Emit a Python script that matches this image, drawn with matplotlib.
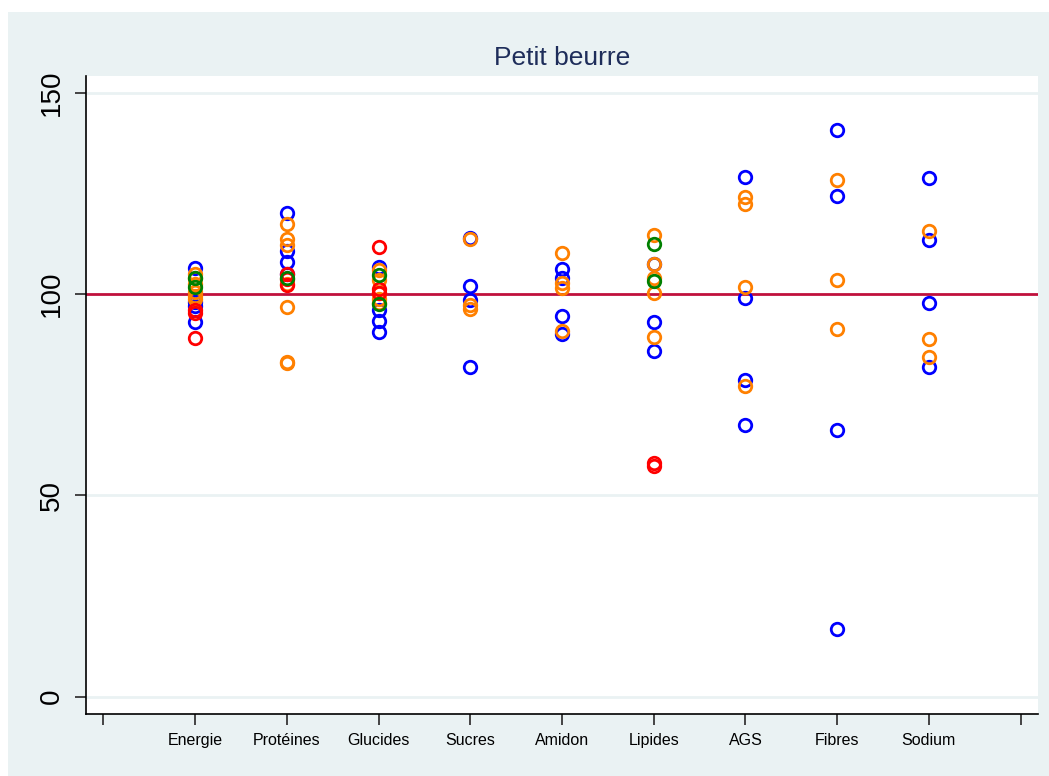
import numpy as np
import matplotlib.pyplot as plt
from matplotlib.patches import Rectangle

plt.rcParams['font.family'] = ['Liberation Sans', 'DejaVu Sans']

categories = ['Energie', 'Protéines', 'Glucides', 'Sucres', 'Amidon',
              'Lipides', 'AGS', 'Fibres', 'Sodium']

# one list of values per category, for each group (colour)
blue_vals = [
    [106.4, 98.1, 97.0, 93.1],
    [120.2, 110.8, 108.0, 105.0],
    [106.8, 96.0, 93.4, 90.6],
    [114.0, 102.1, 98.5, 81.8],
    [106.2, 103.9, 94.6, 90.0],
    [107.6, 93.1, 86.0],
    [129.2, 99.1, 78.7, 67.4],
    [140.8, 124.3, 66.3, 16.8],
    [128.8, 113.4, 97.9, 82.0],
]
orange_vals = [
    [105.1, 104.0, 102.5, 100.6, 99.5, 98.9],
    [117.5, 113.6, 112.2, 102.6, 96.9, 82.9, 83.1],
    [106.0, 103.5, 100.2, 98.9, 97.8],
    [113.6, 97.3, 96.2],
    [110.2, 102.8, 101.6, 90.8],
    [114.8, 107.4, 103.9, 100.3, 89.4],
    [124.1, 122.3, 101.8, 77.2],
    [128.4, 103.5, 91.3],
    [115.6, 88.9, 84.5],
]
red_vals = [
    [96.0, 95.3, 89.0],
    [105.1, 103.7, 102.2],
    [111.7, 101.4, 100.3],
    [], [],
    [58.0, 57.4],
    [], [], [],
]
green_vals = [
    [103.9, 101.8],
    [104.0],
    [104.7, 97.5],
    [], [],
    [112.4, 103.2],
    [], [], [],
]

groups = [(blue_vals, '#0000FF'), (orange_vals, '#FF8000'),
          (red_vals, '#FF0000'), (green_vals, '#008000')]

fig = plt.figure(figsize=(10.49, 7.76), dpi=100, facecolor='white')
fig.patches.append(Rectangle((8 / 1049, 0), 1, 1 - 12 / 776, transform=fig.transFigure,
                             facecolor='#EAF2F3', edgecolor='none', zorder=-10))
ax = fig.add_axes([86 / 1049, 62 / 776, 952 / 1049, 638 / 776])
ax.set_zorder(1)
ax.set_facecolor('white')

for y in [0, 50, 150]:
    ax.axhline(y, color='#EAF2F3', lw=2, zorder=1)
ax.axhline(100, color='#C0103C', lw=2, zorder=2)

for vals, col in groups:
    for i, v in enumerate(vals):
        ax.plot([i + 1] * len(v), v, 'o', mfc='none', mec=col, ms=9, mew=2,
                linestyle='none', zorder=3)

ax.set_xlim(-0.19, 10.19)
ax.set_ylim(-4.3, 154.2)
ax.set_xticks(range(11))
ax.set_xticklabels([''] + categories + [''], fontsize=11.5)
ax.set_yticks([0, 50, 100, 150])
ax.set_yticklabels(['0', '50', '100', '150'], fontsize=20, rotation=90, va='center')

for s in ['top', 'right']:
    ax.spines[s].set_visible(False)
for s in ['left', 'bottom']:
    ax.spines[s].set_linewidth(1.2)
ax.tick_params(axis='both', length=8, width=1.4, color='#444444')
ax.tick_params(axis='x', pad=6)
ax.tick_params(axis='y', pad=7)

ax.set_title('Petit beurre', fontsize=19, color='#1E2D5A', pad=8)

fig.savefig('out.png', dpi=100, facecolor=fig.get_facecolor())
